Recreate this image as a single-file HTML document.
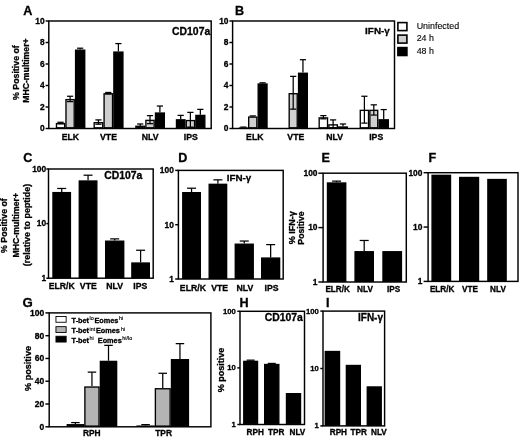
<!DOCTYPE html>
<html><head><meta charset="utf-8"><title>Figure</title>
<style>
html,body{margin:0;padding:0;background:#fff;}
body{width:520px;height:438px;overflow:hidden;}
svg{display:block;font-family:'Liberation Sans', Arial, sans-serif;}
svg text{fill:#000;}
</style></head><body>
<svg width="520" height="438" viewBox="0 0 520 438" font-family="'Liberation Sans', Arial, sans-serif">
<rect x="0" y="0" width="520" height="438" fill="#fff"/>
<text x="23.20" y="14.60" font-size="12.6" font-weight="bold" text-anchor="start" stroke="#000" stroke-width="0.3" >A</text>
<rect x="56.47" y="123.58" width="8.15" height="4.24" fill="#fff" stroke="#000" stroke-width="1.35"/>
<line x1="60.55" y1="122.27" x2="60.55" y2="123.77" stroke="#000" stroke-width="1.25"/>
<line x1="57.45" y1="122.27" x2="63.65" y2="122.27" stroke="#000" stroke-width="1.25"/>
<line x1="57.45" y1="123.77" x2="63.65" y2="123.77" stroke="#000" stroke-width="1.25"/>
<rect x="65.97" y="99.61" width="8.25" height="28.21" fill="#cfcfcf" stroke="#000" stroke-width="1.35"/>
<line x1="70.10" y1="96.25" x2="70.10" y2="101.62" stroke="#000" stroke-width="1.25"/>
<line x1="67.00" y1="96.25" x2="73.20" y2="96.25" stroke="#000" stroke-width="1.25"/>
<line x1="67.00" y1="101.62" x2="73.20" y2="101.62" stroke="#000" stroke-width="1.25"/>
<line x1="80.15" y1="48.20" x2="80.15" y2="49.49" stroke="#000" stroke-width="1.25"/>
<line x1="77.05" y1="48.20" x2="83.25" y2="48.20" stroke="#000" stroke-width="1.25"/>
<rect x="75.58" y="50.16" width="9.15" height="77.66" fill="#000" stroke="#000" stroke-width="1.35"/>
<rect x="94.17" y="122.72" width="8.55" height="5.10" fill="#fff" stroke="#000" stroke-width="1.35"/>
<line x1="98.45" y1="119.90" x2="98.45" y2="124.20" stroke="#000" stroke-width="1.25"/>
<line x1="95.35" y1="119.90" x2="101.55" y2="119.90" stroke="#000" stroke-width="1.25"/>
<line x1="95.35" y1="124.20" x2="101.55" y2="124.20" stroke="#000" stroke-width="1.25"/>
<rect x="104.08" y="93.81" width="8.45" height="34.02" fill="#cfcfcf" stroke="#000" stroke-width="1.35"/>
<line x1="108.30" y1="92.49" x2="108.30" y2="93.88" stroke="#000" stroke-width="1.25"/>
<line x1="105.20" y1="92.49" x2="111.40" y2="92.49" stroke="#000" stroke-width="1.25"/>
<line x1="105.20" y1="93.88" x2="111.40" y2="93.88" stroke="#000" stroke-width="1.25"/>
<line x1="118.40" y1="43.58" x2="118.40" y2="51.42" stroke="#000" stroke-width="1.25"/>
<line x1="115.30" y1="43.58" x2="121.50" y2="43.58" stroke="#000" stroke-width="1.25"/>
<rect x="113.88" y="52.10" width="9.05" height="75.73" fill="#000" stroke="#000" stroke-width="1.35"/>
<rect x="135.88" y="126.27" width="8.65" height="1.55" fill="#fff" stroke="#000" stroke-width="1.35"/>
<line x1="140.20" y1="123.98" x2="140.20" y2="127.21" stroke="#000" stroke-width="1.25"/>
<line x1="137.10" y1="123.98" x2="143.30" y2="123.98" stroke="#000" stroke-width="1.25"/>
<line x1="137.10" y1="127.21" x2="143.30" y2="127.21" stroke="#000" stroke-width="1.25"/>
<rect x="145.88" y="120.36" width="8.25" height="7.46" fill="#cfcfcf" stroke="#000" stroke-width="1.35"/>
<line x1="150.00" y1="115.60" x2="150.00" y2="123.66" stroke="#000" stroke-width="1.25"/>
<line x1="146.90" y1="115.60" x2="153.10" y2="115.60" stroke="#000" stroke-width="1.25"/>
<line x1="146.90" y1="123.66" x2="153.10" y2="123.66" stroke="#000" stroke-width="1.25"/>
<line x1="159.90" y1="106.03" x2="159.90" y2="112.38" stroke="#000" stroke-width="1.25"/>
<line x1="156.80" y1="106.03" x2="163.00" y2="106.03" stroke="#000" stroke-width="1.25"/>
<rect x="155.48" y="113.05" width="8.85" height="14.78" fill="#000" stroke="#000" stroke-width="1.35"/>
<line x1="180.70" y1="115.39" x2="180.70" y2="119.15" stroke="#000" stroke-width="1.25"/>
<line x1="177.60" y1="115.39" x2="183.80" y2="115.39" stroke="#000" stroke-width="1.25"/>
<rect x="176.48" y="119.82" width="8.45" height="8.00" fill="#000" stroke="#000" stroke-width="1.35"/>
<rect x="186.28" y="120.58" width="8.25" height="7.25" fill="#cfcfcf" stroke="#000" stroke-width="1.35"/>
<line x1="190.40" y1="112.38" x2="190.40" y2="127.10" stroke="#000" stroke-width="1.25"/>
<line x1="187.30" y1="112.38" x2="193.50" y2="112.38" stroke="#000" stroke-width="1.25"/>
<line x1="187.30" y1="127.10" x2="193.50" y2="127.10" stroke="#000" stroke-width="1.25"/>
<line x1="200.35" y1="109.37" x2="200.35" y2="114.74" stroke="#000" stroke-width="1.25"/>
<line x1="197.25" y1="109.37" x2="203.45" y2="109.37" stroke="#000" stroke-width="1.25"/>
<rect x="195.88" y="115.41" width="8.95" height="12.41" fill="#000" stroke="#000" stroke-width="1.35"/>
<rect x="48.80" y="21.00" width="162.40" height="107.50" fill="none" stroke="#000" stroke-width="1.45"/>
<line x1="45.60" y1="128.50" x2="48.80" y2="128.50" stroke="#000" stroke-width="1.45"/>
<text x="44.70" y="131.32" font-size="8.4" font-weight="bold" text-anchor="end" stroke="#000" stroke-width="0.3" >0</text>
<line x1="45.60" y1="107.00" x2="48.80" y2="107.00" stroke="#000" stroke-width="1.45"/>
<text x="44.70" y="109.82" font-size="8.4" font-weight="bold" text-anchor="end" stroke="#000" stroke-width="0.3" >2</text>
<line x1="45.60" y1="85.50" x2="48.80" y2="85.50" stroke="#000" stroke-width="1.45"/>
<text x="44.70" y="88.32" font-size="8.4" font-weight="bold" text-anchor="end" stroke="#000" stroke-width="0.3" >4</text>
<line x1="45.60" y1="64.00" x2="48.80" y2="64.00" stroke="#000" stroke-width="1.45"/>
<text x="44.70" y="66.82" font-size="8.4" font-weight="bold" text-anchor="end" stroke="#000" stroke-width="0.3" >6</text>
<line x1="45.60" y1="42.50" x2="48.80" y2="42.50" stroke="#000" stroke-width="1.45"/>
<text x="44.70" y="45.32" font-size="8.4" font-weight="bold" text-anchor="end" stroke="#000" stroke-width="0.3" >8</text>
<line x1="45.60" y1="21.00" x2="48.80" y2="21.00" stroke="#000" stroke-width="1.45"/>
<text x="44.70" y="23.82" font-size="8.4" font-weight="bold" text-anchor="end" stroke="#000" stroke-width="0.3" >10</text>
<text x="70.40" y="140.10" font-size="8.7" font-weight="bold" text-anchor="middle" stroke="#000" stroke-width="0.3" >ELK</text>
<text x="108.50" y="140.10" font-size="8.7" font-weight="bold" text-anchor="middle" stroke="#000" stroke-width="0.3" >VTE</text>
<text x="150.20" y="140.10" font-size="8.7" font-weight="bold" text-anchor="middle" stroke="#000" stroke-width="0.3" >NLV</text>
<text x="190.80" y="140.10" font-size="8.7" font-weight="bold" text-anchor="middle" stroke="#000" stroke-width="0.3" >IPS</text>
<text x="210.20" y="35.20" font-size="10.4" font-weight="bold" text-anchor="end" stroke="#000" stroke-width="0.3" >CD107a</text>
<text transform="translate(19.00,72.60) rotate(-90)" font-size="8.8" font-weight="bold" text-anchor="middle" stroke="#000" stroke-width="0.3">% Positive of</text>
<text transform="translate(29.20,70.60) rotate(-90)" font-size="8.7" font-weight="bold" text-anchor="middle" stroke="#000" stroke-width="0.3">MHC-multimer+</text>
<text x="235.00" y="14.60" font-size="12.6" font-weight="bold" text-anchor="start" stroke="#000" stroke-width="0.3" >B</text>
<line x1="243.40" y1="127.10" x2="243.40" y2="127.42" stroke="#000" stroke-width="1.25"/>
<line x1="240.30" y1="127.10" x2="246.50" y2="127.10" stroke="#000" stroke-width="1.25"/>
<rect x="239.48" y="128.10" width="7.85" height="0.10" fill="#fff" stroke="#000" stroke-width="1.35"/>
<line x1="252.75" y1="115.92" x2="252.75" y2="116.46" stroke="#000" stroke-width="1.25"/>
<line x1="249.65" y1="115.92" x2="255.85" y2="115.92" stroke="#000" stroke-width="1.25"/>
<rect x="248.68" y="117.13" width="8.15" height="10.69" fill="#cfcfcf" stroke="#000" stroke-width="1.35"/>
<line x1="262.60" y1="82.81" x2="262.60" y2="83.35" stroke="#000" stroke-width="1.25"/>
<line x1="259.50" y1="82.81" x2="265.70" y2="82.81" stroke="#000" stroke-width="1.25"/>
<rect x="258.18" y="84.02" width="8.85" height="43.80" fill="#000" stroke="#000" stroke-width="1.35"/>
<rect x="289.18" y="93.70" width="8.05" height="34.12" fill="#cfcfcf" stroke="#000" stroke-width="1.35"/>
<line x1="293.20" y1="76.36" x2="293.20" y2="109.15" stroke="#000" stroke-width="1.25"/>
<line x1="290.10" y1="76.36" x2="296.30" y2="76.36" stroke="#000" stroke-width="1.25"/>
<line x1="290.10" y1="109.15" x2="296.30" y2="109.15" stroke="#000" stroke-width="1.25"/>
<line x1="302.95" y1="59.70" x2="302.95" y2="72.60" stroke="#000" stroke-width="1.25"/>
<line x1="299.85" y1="59.70" x2="306.05" y2="59.70" stroke="#000" stroke-width="1.25"/>
<rect x="298.57" y="73.27" width="8.75" height="54.55" fill="#000" stroke="#000" stroke-width="1.35"/>
<rect x="319.18" y="117.89" width="8.35" height="9.94" fill="#fff" stroke="#000" stroke-width="1.35"/>
<line x1="323.35" y1="115.60" x2="323.35" y2="118.83" stroke="#000" stroke-width="1.25"/>
<line x1="320.25" y1="115.60" x2="326.45" y2="115.60" stroke="#000" stroke-width="1.25"/>
<line x1="320.25" y1="118.83" x2="326.45" y2="118.83" stroke="#000" stroke-width="1.25"/>
<rect x="328.88" y="124.88" width="8.45" height="2.95" fill="#fff" stroke="#000" stroke-width="1.35"/>
<line x1="333.10" y1="119.90" x2="333.10" y2="127.96" stroke="#000" stroke-width="1.25"/>
<line x1="330.00" y1="119.90" x2="336.20" y2="119.90" stroke="#000" stroke-width="1.25"/>
<line x1="330.00" y1="127.96" x2="336.20" y2="127.96" stroke="#000" stroke-width="1.25"/>
<line x1="343.00" y1="123.98" x2="343.00" y2="126.35" stroke="#000" stroke-width="1.25"/>
<line x1="339.90" y1="123.98" x2="346.10" y2="123.98" stroke="#000" stroke-width="1.25"/>
<rect x="338.68" y="127.02" width="8.65" height="0.80" fill="#000" stroke="#000" stroke-width="1.35"/>
<rect x="360.28" y="110.36" width="8.25" height="17.46" fill="#fff" stroke="#000" stroke-width="1.35"/>
<line x1="364.40" y1="96.25" x2="364.40" y2="123.12" stroke="#000" stroke-width="1.25"/>
<line x1="361.30" y1="96.25" x2="367.50" y2="96.25" stroke="#000" stroke-width="1.25"/>
<line x1="361.30" y1="123.12" x2="367.50" y2="123.12" stroke="#000" stroke-width="1.25"/>
<rect x="369.88" y="110.36" width="7.85" height="17.46" fill="#cfcfcf" stroke="#000" stroke-width="1.35"/>
<line x1="373.80" y1="104.85" x2="373.80" y2="115.06" stroke="#000" stroke-width="1.25"/>
<line x1="370.70" y1="104.85" x2="376.90" y2="104.85" stroke="#000" stroke-width="1.25"/>
<line x1="370.70" y1="115.06" x2="376.90" y2="115.06" stroke="#000" stroke-width="1.25"/>
<line x1="383.70" y1="109.58" x2="383.70" y2="119.15" stroke="#000" stroke-width="1.25"/>
<line x1="380.60" y1="109.58" x2="386.80" y2="109.58" stroke="#000" stroke-width="1.25"/>
<rect x="379.07" y="119.82" width="9.25" height="8.00" fill="#000" stroke="#000" stroke-width="1.35"/>
<rect x="232.60" y="21.00" width="161.90" height="107.50" fill="none" stroke="#000" stroke-width="1.45"/>
<line x1="229.40" y1="128.50" x2="232.60" y2="128.50" stroke="#000" stroke-width="1.45"/>
<text x="228.50" y="131.32" font-size="8.4" font-weight="bold" text-anchor="end" stroke="#000" stroke-width="0.3" >0</text>
<line x1="229.40" y1="107.00" x2="232.60" y2="107.00" stroke="#000" stroke-width="1.45"/>
<text x="228.50" y="109.82" font-size="8.4" font-weight="bold" text-anchor="end" stroke="#000" stroke-width="0.3" >2</text>
<line x1="229.40" y1="85.50" x2="232.60" y2="85.50" stroke="#000" stroke-width="1.45"/>
<text x="228.50" y="88.32" font-size="8.4" font-weight="bold" text-anchor="end" stroke="#000" stroke-width="0.3" >4</text>
<line x1="229.40" y1="64.00" x2="232.60" y2="64.00" stroke="#000" stroke-width="1.45"/>
<text x="228.50" y="66.82" font-size="8.4" font-weight="bold" text-anchor="end" stroke="#000" stroke-width="0.3" >6</text>
<line x1="229.40" y1="42.50" x2="232.60" y2="42.50" stroke="#000" stroke-width="1.45"/>
<text x="228.50" y="45.32" font-size="8.4" font-weight="bold" text-anchor="end" stroke="#000" stroke-width="0.3" >8</text>
<line x1="229.40" y1="21.00" x2="232.60" y2="21.00" stroke="#000" stroke-width="1.45"/>
<text x="228.50" y="23.82" font-size="8.4" font-weight="bold" text-anchor="end" stroke="#000" stroke-width="0.3" >10</text>
<text x="254.80" y="140.10" font-size="8.7" font-weight="bold" text-anchor="middle" stroke="#000" stroke-width="0.3" >ELK</text>
<text x="295.80" y="140.10" font-size="8.7" font-weight="bold" text-anchor="middle" stroke="#000" stroke-width="0.3" >VTE</text>
<text x="334.60" y="140.10" font-size="8.7" font-weight="bold" text-anchor="middle" stroke="#000" stroke-width="0.3" >NLV</text>
<text x="376.20" y="140.10" font-size="8.7" font-weight="bold" text-anchor="middle" stroke="#000" stroke-width="0.3" >IPS</text>
<text x="389.80" y="34.00" font-size="9.9" font-weight="bold" text-anchor="end" stroke="#000" stroke-width="0.3" >IFN-γ</text>
<rect x="397.90" y="22.60" width="9.00" height="8.00" fill="#fff" stroke="#000" stroke-width="1.6"/>
<rect x="397.90" y="35.10" width="9.00" height="8.00" fill="#cfcfcf" stroke="#000" stroke-width="1.6"/>
<rect x="397.90" y="47.60" width="9.00" height="7.90" fill="#000" stroke="#000" stroke-width="1.6"/>
<text x="416.70" y="29.10" font-size="8.9" font-weight="normal" text-anchor="start" stroke="#000" stroke-width="0.12" >Uninfected</text>
<text x="416.70" y="41.20" font-size="8.9" font-weight="normal" text-anchor="start" stroke="#000" stroke-width="0.12" >24 h</text>
<text x="416.70" y="54.00" font-size="8.9" font-weight="normal" text-anchor="start" stroke="#000" stroke-width="0.12" >48 h</text>
<line x1="61.70" y1="188.47" x2="61.70" y2="191.94" stroke="#000" stroke-width="1.25"/>
<line x1="57.20" y1="188.47" x2="66.20" y2="188.47" stroke="#000" stroke-width="1.25"/>
<rect x="52.97" y="192.62" width="17.45" height="84.91" fill="#000" stroke="#000" stroke-width="1.35"/>
<line x1="88.05" y1="175.20" x2="88.05" y2="180.34" stroke="#000" stroke-width="1.25"/>
<line x1="83.55" y1="175.20" x2="92.55" y2="175.20" stroke="#000" stroke-width="1.25"/>
<rect x="79.27" y="181.01" width="17.55" height="96.51" fill="#000" stroke="#000" stroke-width="1.35"/>
<line x1="114.70" y1="238.88" x2="114.70" y2="240.52" stroke="#000" stroke-width="1.25"/>
<line x1="110.20" y1="238.88" x2="119.20" y2="238.88" stroke="#000" stroke-width="1.25"/>
<rect x="105.67" y="241.19" width="18.05" height="36.33" fill="#000" stroke="#000" stroke-width="1.35"/>
<line x1="140.60" y1="250.25" x2="140.60" y2="262.36" stroke="#000" stroke-width="1.25"/>
<line x1="136.10" y1="250.25" x2="145.10" y2="250.25" stroke="#000" stroke-width="1.25"/>
<rect x="131.88" y="263.04" width="17.45" height="14.49" fill="#000" stroke="#000" stroke-width="1.35"/>
<rect x="48.50" y="169.00" width="104.70" height="109.20" fill="none" stroke="#000" stroke-width="1.45"/>
<line x1="46.30" y1="278.20" x2="48.50" y2="278.20" stroke="#000" stroke-width="1.45"/>
<text x="46.20" y="281.02" font-size="8.4" font-weight="bold" text-anchor="end" stroke="#000" stroke-width="0.3" >1</text>
<line x1="46.30" y1="223.60" x2="48.50" y2="223.60" stroke="#000" stroke-width="1.45"/>
<text x="46.20" y="226.42" font-size="8.4" font-weight="bold" text-anchor="end" stroke="#000" stroke-width="0.3" >10</text>
<line x1="46.30" y1="169.00" x2="48.50" y2="169.00" stroke="#000" stroke-width="1.45"/>
<text x="46.20" y="171.82" font-size="8.4" font-weight="bold" text-anchor="end" stroke="#000" stroke-width="0.3" >100</text>
<text x="61.70" y="288.70" font-size="8.7" font-weight="bold" text-anchor="middle" stroke="#000" stroke-width="0.3" >ELR/K</text>
<text x="88.30" y="288.70" font-size="8.7" font-weight="bold" text-anchor="middle" stroke="#000" stroke-width="0.3" >VTE</text>
<text x="114.60" y="288.70" font-size="8.7" font-weight="bold" text-anchor="middle" stroke="#000" stroke-width="0.3" >NLV</text>
<text x="140.30" y="288.70" font-size="8.7" font-weight="bold" text-anchor="middle" stroke="#000" stroke-width="0.3" >IPS</text>
<text x="23.20" y="161.80" font-size="12.6" font-weight="bold" text-anchor="start" stroke="#000" stroke-width="0.3" >C</text>
<text x="142.40" y="179.00" font-size="10.4" font-weight="bold" text-anchor="end" stroke="#000" stroke-width="0.3" >CD107a</text>
<text transform="translate(7.40,225.60) rotate(-90)" font-size="8.8" font-weight="bold" text-anchor="middle" stroke="#000" stroke-width="0.3">% Positive of</text>
<text transform="translate(18.50,225.20) rotate(-90)" font-size="8.7" font-weight="bold" text-anchor="middle" stroke="#000" stroke-width="0.3">MHC-multimer+</text>
<text transform="translate(29.60,225.00) rotate(-90)" font-size="8.95" font-weight="bold" text-anchor="middle" stroke="#000" stroke-width="0.3">(relative to peptide)</text>
<line x1="191.55" y1="188.21" x2="191.55" y2="192.01" stroke="#000" stroke-width="1.25"/>
<line x1="187.05" y1="188.21" x2="196.05" y2="188.21" stroke="#000" stroke-width="1.25"/>
<rect x="182.78" y="192.68" width="17.55" height="85.64" fill="#000" stroke="#000" stroke-width="1.35"/>
<line x1="217.90" y1="179.84" x2="217.90" y2="183.66" stroke="#000" stroke-width="1.25"/>
<line x1="213.40" y1="179.84" x2="222.40" y2="179.84" stroke="#000" stroke-width="1.25"/>
<rect x="209.18" y="184.33" width="17.45" height="93.99" fill="#000" stroke="#000" stroke-width="1.35"/>
<line x1="244.25" y1="241.05" x2="244.25" y2="243.53" stroke="#000" stroke-width="1.25"/>
<line x1="239.75" y1="241.05" x2="248.75" y2="241.05" stroke="#000" stroke-width="1.25"/>
<rect x="235.28" y="244.21" width="17.95" height="34.12" fill="#000" stroke="#000" stroke-width="1.35"/>
<line x1="270.65" y1="244.60" x2="270.65" y2="257.39" stroke="#000" stroke-width="1.25"/>
<line x1="266.15" y1="244.60" x2="275.15" y2="244.60" stroke="#000" stroke-width="1.25"/>
<rect x="261.68" y="258.07" width="17.95" height="20.26" fill="#000" stroke="#000" stroke-width="1.35"/>
<rect x="178.40" y="170.40" width="104.80" height="108.60" fill="none" stroke="#000" stroke-width="1.45"/>
<line x1="175.20" y1="279.00" x2="178.40" y2="279.00" stroke="#000" stroke-width="1.45"/>
<text x="173.80" y="281.82" font-size="8.4" font-weight="bold" text-anchor="end" stroke="#000" stroke-width="0.3" >1</text>
<line x1="175.20" y1="224.70" x2="178.40" y2="224.70" stroke="#000" stroke-width="1.45"/>
<text x="173.80" y="227.52" font-size="8.4" font-weight="bold" text-anchor="end" stroke="#000" stroke-width="0.3" >10</text>
<line x1="175.20" y1="170.40" x2="178.40" y2="170.40" stroke="#000" stroke-width="1.45"/>
<text x="173.80" y="173.22" font-size="8.4" font-weight="bold" text-anchor="end" stroke="#000" stroke-width="0.3" >100</text>
<text x="192.90" y="291.00" font-size="8.7" font-weight="bold" text-anchor="middle" stroke="#000" stroke-width="0.3" >ELR/K</text>
<text x="219.70" y="291.00" font-size="8.7" font-weight="bold" text-anchor="middle" stroke="#000" stroke-width="0.3" >VTE</text>
<text x="244.90" y="291.00" font-size="8.7" font-weight="bold" text-anchor="middle" stroke="#000" stroke-width="0.3" >NLV</text>
<text x="271.60" y="291.00" font-size="8.7" font-weight="bold" text-anchor="middle" stroke="#000" stroke-width="0.3" >IPS</text>
<text x="178.20" y="161.80" font-size="12.6" font-weight="bold" text-anchor="start" stroke="#000" stroke-width="0.3" >D</text>
<text x="251.30" y="181.00" font-size="9.8" font-weight="bold" text-anchor="end" stroke="#000" stroke-width="0.3" >IFN-γ</text>
<line x1="336.60" y1="181.13" x2="336.60" y2="182.31" stroke="#000" stroke-width="1.25"/>
<line x1="332.10" y1="181.13" x2="341.10" y2="181.13" stroke="#000" stroke-width="1.25"/>
<rect x="327.48" y="182.99" width="18.25" height="98.34" fill="#000" stroke="#000" stroke-width="1.35"/>
<line x1="364.20" y1="240.47" x2="364.20" y2="251.09" stroke="#000" stroke-width="1.25"/>
<line x1="359.70" y1="240.47" x2="368.70" y2="240.47" stroke="#000" stroke-width="1.25"/>
<rect x="355.07" y="251.76" width="18.25" height="29.56" fill="#000" stroke="#000" stroke-width="1.35"/>
<rect x="382.98" y="251.76" width="18.45" height="29.56" fill="#000" stroke="#000" stroke-width="1.35"/>
<rect x="323.10" y="173.20" width="83.20" height="108.80" fill="none" stroke="#000" stroke-width="1.45"/>
<line x1="318.40" y1="282.00" x2="323.10" y2="282.00" stroke="#000" stroke-width="1.45"/>
<text x="317.50" y="284.82" font-size="8.4" font-weight="bold" text-anchor="end" stroke="#000" stroke-width="0.3" >1</text>
<line x1="318.40" y1="227.60" x2="323.10" y2="227.60" stroke="#000" stroke-width="1.45"/>
<text x="317.50" y="230.42" font-size="8.4" font-weight="bold" text-anchor="end" stroke="#000" stroke-width="0.3" >10</text>
<line x1="318.40" y1="173.20" x2="323.10" y2="173.20" stroke="#000" stroke-width="1.45"/>
<text x="317.50" y="176.02" font-size="8.4" font-weight="bold" text-anchor="end" stroke="#000" stroke-width="0.3" >100</text>
<text x="337.70" y="292.30" font-size="8.2" font-weight="bold" text-anchor="middle" stroke="#000" stroke-width="0.3" >ELR/K</text>
<text x="365.00" y="292.30" font-size="8.2" font-weight="bold" text-anchor="middle" stroke="#000" stroke-width="0.3" >NLV</text>
<text x="393.50" y="292.30" font-size="8.2" font-weight="bold" text-anchor="middle" stroke="#000" stroke-width="0.3" >IPS</text>
<text x="321.40" y="161.80" font-size="12.6" font-weight="bold" text-anchor="start" stroke="#000" stroke-width="0.3" >E</text>
<text transform="translate(294.60,227.80) rotate(-90)" font-size="9.0" font-weight="bold" text-anchor="middle" stroke="#000" stroke-width="0.3">% IFN-γ</text>
<text transform="translate(304.20,228.00) rotate(-90)" font-size="8.7" font-weight="bold" text-anchor="middle" stroke="#000" stroke-width="0.3">Positive</text>
<rect x="432.07" y="175.34" width="18.45" height="105.38" fill="#000" stroke="#000" stroke-width="1.35"/>
<rect x="459.68" y="177.49" width="18.85" height="103.23" fill="#000" stroke="#000" stroke-width="1.35"/>
<rect x="487.88" y="179.54" width="18.25" height="101.18" fill="#000" stroke="#000" stroke-width="1.35"/>
<rect x="428.10" y="172.70" width="89.90" height="108.70" fill="none" stroke="#000" stroke-width="1.45"/>
<line x1="423.60" y1="281.40" x2="428.10" y2="281.40" stroke="#000" stroke-width="1.45"/>
<text x="422.40" y="284.22" font-size="8.4" font-weight="bold" text-anchor="end" stroke="#000" stroke-width="0.3" >1</text>
<line x1="423.60" y1="227.05" x2="428.10" y2="227.05" stroke="#000" stroke-width="1.45"/>
<text x="422.40" y="229.87" font-size="8.4" font-weight="bold" text-anchor="end" stroke="#000" stroke-width="0.3" >10</text>
<line x1="423.60" y1="172.70" x2="428.10" y2="172.70" stroke="#000" stroke-width="1.45"/>
<text x="422.40" y="175.52" font-size="8.4" font-weight="bold" text-anchor="end" stroke="#000" stroke-width="0.3" >100</text>
<text x="442.20" y="292.00" font-size="8.2" font-weight="bold" text-anchor="middle" stroke="#000" stroke-width="0.3" >ELR/K</text>
<text x="469.90" y="292.00" font-size="8.2" font-weight="bold" text-anchor="middle" stroke="#000" stroke-width="0.3" >VTE</text>
<text x="498.00" y="292.00" font-size="8.2" font-weight="bold" text-anchor="middle" stroke="#000" stroke-width="0.3" >NLV</text>
<text x="428.60" y="161.80" font-size="12.6" font-weight="bold" text-anchor="start" stroke="#000" stroke-width="0.3" >F</text>
<line x1="75.40" y1="422.59" x2="75.40" y2="424.07" stroke="#000" stroke-width="1.25"/>
<line x1="71.15" y1="422.59" x2="79.65" y2="422.59" stroke="#000" stroke-width="1.25"/>
<rect x="67.27" y="424.74" width="16.25" height="1.38" fill="#fff" stroke="#000" stroke-width="1.35"/>
<line x1="91.95" y1="372.13" x2="91.95" y2="386.37" stroke="#000" stroke-width="1.25"/>
<line x1="87.70" y1="372.13" x2="96.20" y2="372.13" stroke="#000" stroke-width="1.25"/>
<rect x="84.88" y="387.04" width="14.15" height="39.08" fill="#b4b4b4" stroke="#000" stroke-width="1.35"/>
<line x1="108.50" y1="345.36" x2="108.50" y2="360.74" stroke="#000" stroke-width="1.25"/>
<line x1="104.25" y1="345.36" x2="112.75" y2="345.36" stroke="#000" stroke-width="1.25"/>
<rect x="100.38" y="361.41" width="16.25" height="64.71" fill="#000" stroke="#000" stroke-width="1.35"/>
<line x1="145.55" y1="424.64" x2="145.55" y2="425.43" stroke="#000" stroke-width="1.25"/>
<line x1="141.30" y1="424.64" x2="149.80" y2="424.64" stroke="#000" stroke-width="1.25"/>
<rect x="137.08" y="426.11" width="16.95" height="0.10" fill="#fff" stroke="#000" stroke-width="1.35"/>
<line x1="162.75" y1="373.27" x2="162.75" y2="388.07" stroke="#000" stroke-width="1.25"/>
<line x1="158.50" y1="373.27" x2="167.00" y2="373.27" stroke="#000" stroke-width="1.25"/>
<rect x="155.38" y="388.75" width="14.75" height="37.38" fill="#b4b4b4" stroke="#000" stroke-width="1.35"/>
<line x1="179.95" y1="343.65" x2="179.95" y2="359.03" stroke="#000" stroke-width="1.25"/>
<line x1="175.70" y1="343.65" x2="184.20" y2="343.65" stroke="#000" stroke-width="1.25"/>
<rect x="171.48" y="359.70" width="16.95" height="66.42" fill="#000" stroke="#000" stroke-width="1.35"/>
<rect x="49.20" y="312.90" width="161.70" height="113.90" fill="none" stroke="#000" stroke-width="1.45"/>
<line x1="45.40" y1="426.80" x2="49.20" y2="426.80" stroke="#000" stroke-width="1.45"/>
<text x="44.20" y="429.66" font-size="8.5" font-weight="bold" text-anchor="end" stroke="#000" stroke-width="0.3" >0</text>
<line x1="45.40" y1="404.02" x2="49.20" y2="404.02" stroke="#000" stroke-width="1.45"/>
<text x="44.20" y="406.88" font-size="8.5" font-weight="bold" text-anchor="end" stroke="#000" stroke-width="0.3" >20</text>
<line x1="45.40" y1="381.24" x2="49.20" y2="381.24" stroke="#000" stroke-width="1.45"/>
<text x="44.20" y="384.10" font-size="8.5" font-weight="bold" text-anchor="end" stroke="#000" stroke-width="0.3" >40</text>
<line x1="45.40" y1="358.46" x2="49.20" y2="358.46" stroke="#000" stroke-width="1.45"/>
<text x="44.20" y="361.32" font-size="8.5" font-weight="bold" text-anchor="end" stroke="#000" stroke-width="0.3" >60</text>
<line x1="45.40" y1="335.68" x2="49.20" y2="335.68" stroke="#000" stroke-width="1.45"/>
<text x="44.20" y="338.54" font-size="8.5" font-weight="bold" text-anchor="end" stroke="#000" stroke-width="0.3" >80</text>
<line x1="45.40" y1="312.90" x2="49.20" y2="312.90" stroke="#000" stroke-width="1.45"/>
<text x="44.20" y="315.76" font-size="8.5" font-weight="bold" text-anchor="end" stroke="#000" stroke-width="0.3" >100</text>
<text x="91.80" y="436.20" font-size="8.4" font-weight="bold" text-anchor="middle" stroke="#000" stroke-width="0.3" >RPH</text>
<text x="163.60" y="436.20" font-size="8.4" font-weight="bold" text-anchor="middle" stroke="#000" stroke-width="0.3" >TPR</text>
<text x="22.60" y="306.90" font-size="13.2" font-weight="bold" text-anchor="start" stroke="#000" stroke-width="0.3" >G</text>
<text transform="translate(31.20,368.50) rotate(-90)" font-size="9.1" font-weight="bold" text-anchor="middle" stroke="#000" stroke-width="0.3">% positive</text>
<rect x="55.95" y="316.45" width="10.20" height="5.80" fill="#fff" stroke="#000" stroke-width="0.9"/>
<rect x="55.95" y="326.65" width="10.20" height="5.80" fill="#b4b4b4" stroke="#000" stroke-width="0.9"/>
<rect x="55.95" y="336.25" width="10.20" height="5.80" fill="#000" stroke="#000" stroke-width="0.9"/>
<text x="71.6" y="322.90" font-size="7.3" font-weight="bold" stroke="#000" stroke-width="0.3">T-bet</text>
<text x="89.6" y="320.40" font-size="5.4" font-weight="normal" stroke="#000" stroke-width="0.15">lo</text>
<text x="94.5" y="322.90" font-size="7.3" font-weight="bold" stroke="#000" stroke-width="0.3">Eomes</text>
<text x="119.0" y="320.40" font-size="5.4" font-weight="normal" stroke="#000" stroke-width="0.15">hi</text>
<text x="71.6" y="333.20" font-size="7.3" font-weight="bold" stroke="#000" stroke-width="0.3">T-bet</text>
<text x="89.6" y="330.70" font-size="5.4" font-weight="normal" stroke="#000" stroke-width="0.15">int</text>
<text x="95.9" y="333.20" font-size="7.3" font-weight="bold" stroke="#000" stroke-width="0.3">Eomes</text>
<text x="120.9" y="330.70" font-size="5.4" font-weight="normal" stroke="#000" stroke-width="0.15">hi</text>
<text x="71.6" y="342.70" font-size="7.3" font-weight="bold" stroke="#000" stroke-width="0.3">T-bet</text>
<text x="89.6" y="340.20" font-size="5.4" font-weight="normal" stroke="#000" stroke-width="0.15">hi</text>
<text x="97.8" y="342.70" font-size="7.3" font-weight="bold" stroke="#000" stroke-width="0.3">Eomes</text>
<text x="122.3" y="340.20" font-size="5.4" font-weight="normal" stroke="#000" stroke-width="0.15">hi/lo</text>
<line x1="250.65" y1="360.16" x2="250.65" y2="360.71" stroke="#000" stroke-width="1.25"/>
<line x1="246.65" y1="360.16" x2="254.65" y2="360.16" stroke="#000" stroke-width="1.25"/>
<rect x="243.78" y="361.38" width="13.75" height="62.44" fill="#000" stroke="#000" stroke-width="1.35"/>
<line x1="271.75" y1="363.42" x2="271.75" y2="363.83" stroke="#000" stroke-width="1.25"/>
<line x1="267.75" y1="363.42" x2="275.75" y2="363.42" stroke="#000" stroke-width="1.25"/>
<rect x="264.68" y="364.51" width="14.15" height="59.32" fill="#000" stroke="#000" stroke-width="1.35"/>
<rect x="286.48" y="393.69" width="14.05" height="30.14" fill="#000" stroke="#000" stroke-width="1.35"/>
<rect x="240.00" y="311.30" width="64.50" height="113.20" fill="none" stroke="#000" stroke-width="1.45"/>
<line x1="237.30" y1="424.50" x2="240.00" y2="424.50" stroke="#000" stroke-width="1.45"/>
<text x="235.90" y="427.07" font-size="7.7" font-weight="bold" text-anchor="end" stroke="#000" stroke-width="0.3" >1</text>
<line x1="237.30" y1="367.90" x2="240.00" y2="367.90" stroke="#000" stroke-width="1.45"/>
<text x="235.90" y="370.47" font-size="7.7" font-weight="bold" text-anchor="end" stroke="#000" stroke-width="0.3" >10</text>
<line x1="237.30" y1="311.30" x2="240.00" y2="311.30" stroke="#000" stroke-width="1.45"/>
<text x="235.90" y="313.87" font-size="7.7" font-weight="bold" text-anchor="end" stroke="#000" stroke-width="0.3" >100</text>
<text x="255.20" y="435.30" font-size="8.2" font-weight="bold" text-anchor="middle" stroke="#000" stroke-width="0.3" >RPH</text>
<text x="276.30" y="435.30" font-size="8.2" font-weight="bold" text-anchor="middle" stroke="#000" stroke-width="0.3" >TPR</text>
<text x="297.40" y="435.30" font-size="8.2" font-weight="bold" text-anchor="middle" stroke="#000" stroke-width="0.3" >NLV</text>
<text x="239.50" y="306.60" font-size="12.6" font-weight="bold" text-anchor="start" stroke="#000" stroke-width="0.3" >H</text>
<text x="302.80" y="321.40" font-size="10.4" font-weight="bold" text-anchor="end" stroke="#000" stroke-width="0.3" >CD107a</text>
<text transform="translate(224.30,370.00) rotate(-90)" font-size="9.0" font-weight="bold" text-anchor="middle" stroke="#000" stroke-width="0.3">% positive</text>
<rect x="325.28" y="351.52" width="14.25" height="73.70" fill="#000" stroke="#000" stroke-width="1.35"/>
<rect x="346.38" y="365.48" width="13.95" height="59.75" fill="#000" stroke="#000" stroke-width="1.35"/>
<rect x="367.28" y="386.96" width="13.95" height="38.27" fill="#000" stroke="#000" stroke-width="1.35"/>
<rect x="323.00" y="311.10" width="61.60" height="114.80" fill="none" stroke="#000" stroke-width="1.45"/>
<line x1="320.30" y1="425.90" x2="323.00" y2="425.90" stroke="#000" stroke-width="1.45"/>
<text x="318.90" y="428.47" font-size="7.7" font-weight="bold" text-anchor="end" stroke="#000" stroke-width="0.3" >1</text>
<line x1="320.30" y1="368.50" x2="323.00" y2="368.50" stroke="#000" stroke-width="1.45"/>
<text x="318.90" y="371.07" font-size="7.7" font-weight="bold" text-anchor="end" stroke="#000" stroke-width="0.3" >10</text>
<line x1="320.30" y1="311.10" x2="323.00" y2="311.10" stroke="#000" stroke-width="1.45"/>
<text x="318.90" y="313.67" font-size="7.7" font-weight="bold" text-anchor="end" stroke="#000" stroke-width="0.3" >100</text>
<text x="338.40" y="435.40" font-size="8.2" font-weight="bold" text-anchor="middle" stroke="#000" stroke-width="0.3" >RPH</text>
<text x="358.80" y="435.40" font-size="8.2" font-weight="bold" text-anchor="middle" stroke="#000" stroke-width="0.3" >TPR</text>
<text x="378.90" y="435.40" font-size="8.2" font-weight="bold" text-anchor="middle" stroke="#000" stroke-width="0.3" >NLV</text>
<text x="326.00" y="306.60" font-size="12.6" font-weight="bold" text-anchor="start" stroke="#000" stroke-width="0.3" >I</text>
<text x="383.00" y="320.80" font-size="10.0" font-weight="bold" text-anchor="end" stroke="#000" stroke-width="0.3" >IFN-γ</text>
</svg>
</body></html>
